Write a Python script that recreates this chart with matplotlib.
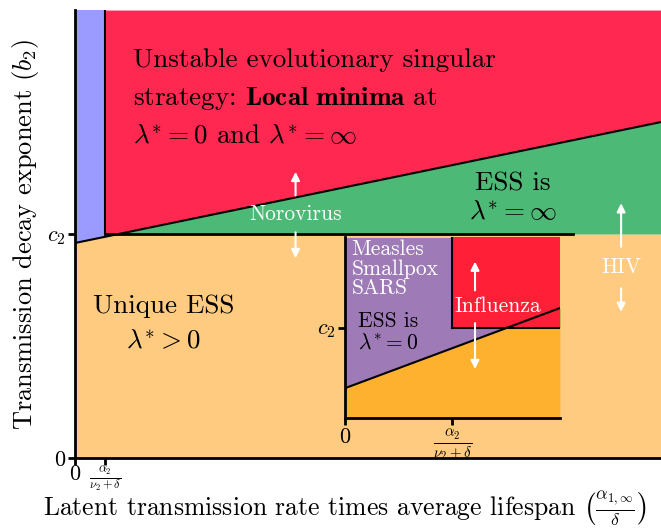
import numpy as np
import matplotlib
matplotlib.use("Agg")
import matplotlib.pyplot as plt

plt.rcParams["font.family"] = "serif"
plt.rcParams["font.serif"] = ["cmr10"]
plt.rcParams["mathtext.fontset"] = "cm"
plt.rcParams["axes.formatter.use_mathtext"] = True

# main panel: boundary line b2 = f(x) and the c2 level
x_max = 19.53
y_max = 2.0
c2 = 1.0
alpha_tick = 1.0
boundary_x = [0.0, x_max]
boundary_y = [0.96, 1.50]
c2_line_end = 16.6

# inset panel
in_x_max = 2.0
in_y_max = 2.0
in_boundary_x = [0.0, in_x_max]
in_boundary_y = [0.33, 1.215]

col_blue = "#9b9bff"
col_red = "#ff2850"
col_green = "#4db976"
col_orange = "#fecb80"
in_purple = "#9e7bb6"
in_red = "#ff1f37"
in_green = "#5ba63f"
in_orange = "#fdb12e"

fig = plt.figure(figsize=(6.61, 5.29), dpi=100)
ax = fig.add_axes([0.1135, 0.1342, 0.8865, 0.8468])

x = np.linspace(0, x_max, 800)
line = np.interp(x, boundary_x, boundary_y)
left = x < alpha_tick
lower = np.where(left, np.minimum(line, c2), c2)
upper = np.where(left, line, np.maximum(line, c2))

ax.fill_between(x, 0, lower, color=col_orange, lw=0)
ax.fill_between(x, lower, upper, where=~left, color=col_green, lw=0)
ax.fill_between(x, upper, y_max, where=left, color=col_blue, lw=0)
ax.fill_between(x, upper, y_max, where=~left, color=col_red, lw=0)
ax.axvspan(0, alpha_tick, ymin=0.5, ymax=1, color=col_blue, lw=0, zorder=0.5)

ax.plot(boundary_x, boundary_y, color="black", lw=1.5)
ax.plot([alpha_tick, alpha_tick], [c2, y_max], color="black", lw=1.5)
ax.plot([alpha_tick, c2_line_end], [c2, c2], color="black", lw=2)

ax.set_xlim(0, x_max)
ax.set_ylim(0, y_max)
for s in ["top", "right"]:
    ax.spines[s].set_visible(False)
for s in ["left", "bottom"]:
    ax.spines[s].set_linewidth(2)
ax.set_xticks([0, alpha_tick])
ax.set_xticklabels(["0", r"$\frac{\alpha_2}{\nu_2+\delta}$"], fontsize=12.5)
ax.get_xticklabels()[0].set_fontsize(16)
ax.set_yticks([0, c2])
ax.set_yticklabels(["0", r"$c_2$"], fontsize=16)
ax.tick_params(width=2, length=5, pad=0)
ax.tick_params(axis="y", pad=2)
fig.text(0.522, 0.0,
         r"Latent transmission rate times average lifespan $\left(\frac{\alpha_{1,\infty}}{\delta}\right)$",
         fontsize=18.5, ha="center", va="bottom")
ax.set_ylabel(r"Transmission decay exponent ($b_2$)", fontsize=19, labelpad=4)

ax.text(1.93, 1.83,
        "Unstable evolutionary singular\nstrategy: $\\mathbf{Local\\ minima}$ at\n"
        "$\\lambda^{*}=0$ and $\\lambda^{*}=\\infty$",
        fontsize=19.5, va="top", ha="left", linespacing=1.65)
ax.text(14.6, 1.16, "ESS is\n$\\lambda^{*}=\\infty$", fontsize=19.5, ha="center", va="center",
        linespacing=1.25)
ax.text(2.95, 0.60, "Unique ESS\n$\\lambda^{*}>0$", fontsize=19.5, ha="center", va="center",
        linespacing=1.6)

white_arrow = dict(arrowstyle="-|>,head_length=0.5,head_width=0.25", color="white", lw=1.5)
ax.text(7.35, 1.09, "Norovirus", fontsize=15.5, color="white", ha="center", va="center")
ax.annotate("", xy=(7.35, 1.29), xytext=(7.35, 1.16), arrowprops=white_arrow)
ax.annotate("", xy=(7.35, 0.88), xytext=(7.35, 1.02), arrowprops=white_arrow)
ax.text(18.2, 0.85, "HIV", fontsize=15.5, color="white", ha="center", va="center")
ax.annotate("", xy=(18.2, 1.15), xytext=(18.2, 0.93), arrowprops=white_arrow)
ax.annotate("", xy=(18.2, 0.64), xytext=(18.2, 0.77), arrowprops=white_arrow)

# inset
ins = fig.add_axes([0.522, 0.2098, 0.325, 0.342])
xi = np.linspace(0, in_x_max, 400)
li = np.interp(xi, in_boundary_x, in_boundary_y)
il = xi < alpha_tick
ins.fill_between(xi, 0, li, color=in_orange, lw=0)
ins.fill_between(xi, li, np.where(il, in_y_max, np.maximum(li, c2)), color=in_purple, lw=0)
ins.fill_between(xi, c2, li, where=(~il) & (li > c2), color=in_green, lw=0)
ins.fill_between(xi, c2, in_y_max, where=~il, color=in_red, lw=0)
ins.plot(in_boundary_x, in_boundary_y, color="black", lw=1.5)
ins.plot([alpha_tick, alpha_tick], [c2, in_y_max], color="black", lw=1.5)
ins.plot([alpha_tick, in_x_max], [c2, c2], color="black", lw=1.5)
ins.set_xlim(0, in_x_max)
ins.set_ylim(0, in_y_max)
for s in ["top", "right"]:
    ins.spines[s].set_visible(False)
for s in ["left", "bottom"]:
    ins.spines[s].set_linewidth(2)
ins.set_xticks([0, alpha_tick])
ins.set_xticklabels(["0", r"$\frac{\alpha_2}{\nu_2+\delta}$"], fontsize=15.5)
ins.get_xticklabels()[0].set_fontsize(16)
ins.set_yticks([c2])
ins.set_yticklabels([r"$c_2$"], fontsize=16)
ins.tick_params(width=2, length=5, pad=2)

ins.text(0.06, 1.97, "Measles\nSmallpox\nSARS", fontsize=15.5, color="white", ha="left", va="top",
         linespacing=1.0)
ins.text(0.40, 0.95, "ESS is\n$\\lambda^{*}=0$", fontsize=15.5, ha="center", va="center",
         linespacing=1.1)
ins.text(1.42, 1.24, "Influenza", fontsize=15.5, color="white", ha="center", va="center")
ins.annotate("", xy=(1.21, 1.76), xytext=(1.21, 1.38), arrowprops=white_arrow)
ins.annotate("", xy=(1.21, 0.51), xytext=(1.21, 1.08), arrowprops=white_arrow)

fig.savefig("out.png", dpi=100)
